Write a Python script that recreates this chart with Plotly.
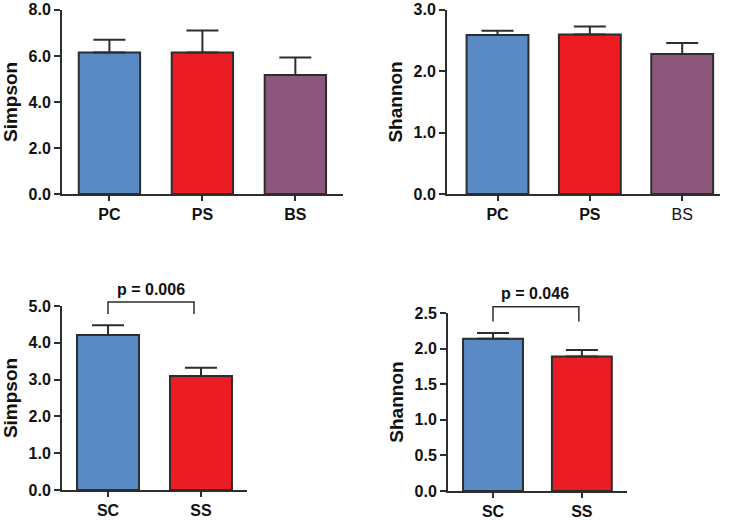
import plotly.graph_objects as go

# top row: three groups
top_groups = ["PC", "PS", "BS"]
simpson_top = [6.15, 6.15, 5.17]
simpson_top_err = [0.55, 0.95, 0.76]
shannon_top = [2.59, 2.60, 2.28]
shannon_top_err = [0.07, 0.13, 0.18]

# bottom row: two groups
bottom_groups = ["SC", "SS"]
simpson_bottom = [4.21, 3.10]
simpson_bottom_err = [0.27, 0.22]
shannon_bottom = [2.14, 1.89]
shannon_bottom_err = [0.08, 0.09]

p_simpson = "p = 0.006"
p_shannon = "p = 0.046"

BLUE = "#5a8ac6"
RED = "#ec1c24"
PURPLE = "#8b587c"
DARK = "#2d2d2d"
FONT = "Liberation Sans"

fig = go.Figure()

# (axis id, x domain, x range, y domain, y range, dtick, bar width)
panels = [
    ("", [0.0845, 0.467], [-0.51, 2.51], [0.627, 0.981], [0, 8], 2, 0.66),
    ("2", [0.609, 0.981], [-0.547, 2.41], [0.627, 0.981], [0, 3], 1, 0.67),
    ("3", [0.0845, 0.3365], [-0.495, 1.495], [0.0577, 0.4115], [0, 5], 1, 0.667),
    ("4", [0.6104, 0.854], [-0.506, 1.506], [0.0558, 0.398], [0, 2.5], 0.5, 0.674),
]

data = [
    (top_groups, simpson_top, simpson_top_err, [BLUE, RED, PURPLE], "Simpson"),
    (top_groups, shannon_top, shannon_top_err, [BLUE, RED, PURPLE], "Shannon"),
    (bottom_groups, simpson_bottom, simpson_bottom_err, [BLUE, RED], "Simpson"),
    (bottom_groups, shannon_bottom, shannon_bottom_err, [BLUE, RED], "Shannon"),
]

for (ax, xdom, xr, ydom, yr, dt, bw), (groups, vals, errs, cols, title) in zip(panels, data):
    pos = list(range(len(groups)))
    fig.add_trace(go.Bar(
        x=pos, y=vals, width=bw,
        marker=dict(color=cols, line=dict(color=DARK, width=2)),
        error_y=dict(type="data", array=errs, arrayminus=[0] * len(errs),
                     symmetric=False, color=DARK, thickness=2, width=16),
        xaxis="x" + ax, yaxis="y" + ax, showlegend=False,
    ))
    # GraphPad style: "BS" on the Shannon panel is not bold
    if ax == "2":
        ticktext = ["<b>%s</b>" % g if g != "BS" else g for g in groups]
    else:
        ticktext = ["<b>%s</b>" % g for g in groups]
    fig.update_layout({
        "xaxis" + ax: dict(
            domain=xdom, range=xr, anchor="y" + ax, automargin=False,
            tickvals=pos, ticktext=ticktext,
            showline=True, linecolor=DARK, linewidth=2,
            ticks="outside", ticklen=5, tickwidth=2, tickcolor=DARK,
            showgrid=False, zeroline=False,
            tickfont=dict(family=FONT, size=16, color="#111"),
        ),
        "yaxis" + ax: dict(
            domain=ydom, range=yr, anchor="x" + ax, automargin=False,
            dtick=dt, tick0=0, tickformat=".1f",
            showline=True, linecolor=DARK, linewidth=2,
            ticks="outside", ticklen=6, tickwidth=2, tickcolor=DARK,
            showgrid=False, zeroline=False,
            tickfont=dict(family=FONT, size=16, color="#111", weight="bold"),
            title=dict(text=title, standoff=6,
                       font=dict(family=FONT, size=19, color="#111", weight="bold")),
        ),
    })


def to_paper(v, r, dom):
    return dom[0] + (v - r[0]) / (r[1] - r[0]) * (dom[1] - dom[0])


# significance brackets on the bottom row
brackets = [
    ("3", [0.0, 0.925], 4.78, 5.11, 0.457, 5.46, p_simpson),
    ("4", [0.0, 0.966], 2.38, 2.59, 0.47, 2.78, p_shannon),
]
for ax, (x0, x1), ylow, ytop, tx, ty, label in brackets:
    panel = [p for p in panels if p[0] == ax][0]
    xdom, xr, ydom, yr = panel[1], panel[2], panel[3], panel[4]
    px0, px1 = to_paper(x0, xr, xdom), to_paper(x1, xr, xdom)
    plow, ptop = to_paper(ylow, yr, ydom), to_paper(ytop, yr, ydom)
    path = "M %f,%f L %f,%f L %f,%f L %f,%f" % (px0, plow, px0, ptop, px1, ptop, px1, plow)
    fig.add_shape(type="path", path=path, xref="paper", yref="paper",
                  line=dict(color=DARK, width=1.5))
    fig.add_annotation(x=to_paper(tx, xr, xdom), y=to_paper(ty, yr, ydom),
                       xref="paper", yref="paper", xanchor="center", yanchor="middle",
                       text="<b>%s</b>" % label, showarrow=False,
                       font=dict(family=FONT, size=16, color="#111"))

fig.update_layout(
    width=734, height=520,
    margin=dict(l=0, r=0, t=0, b=0, autoexpand=False),
    paper_bgcolor="white", plot_bgcolor="white",
    showlegend=False,
)

# drop the browser's default body margin so the figure sits at the page corner
fig.write_html("out.html", config={"displayModeBar": False},
               post_script="document.body.style.margin = '0';")
